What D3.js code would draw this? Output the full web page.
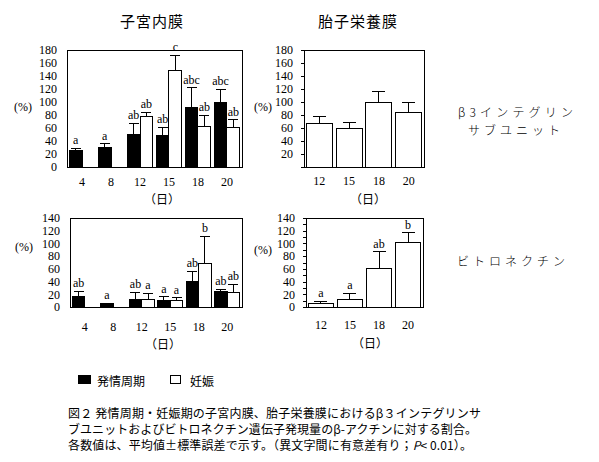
<!DOCTYPE html>
<html><head><meta charset="utf-8">
<script src="https://cdn.jsdelivr.net/npm/d3@7"></script>
<style>
body{margin:0;background:#fff;}
svg{display:block;}
</style></head>
<body>
<svg id="c" width="599" height="462"></svg>
<script>
// ---- data ----
const days6 = ["4","8","12","15","18","20"];
const days4 = ["12","15","18","20"];
const legendLabels = ["発情周期","妊娠"];
const yTicks180 = [0,20,40,60,80,100,120,140,160,180];
const yTicks140 = [0,20,40,60,80,100,120,140];
const yTicks140minor = [0,10,20,30,40,50,60,70,80,90,100,110,120,130,140];

// β3 integrin, endometrium
const b3EndoEstrous    = [26, 30, 50, 49, 91, 100];
const b3EndoEstrousSE  = [3, 6, 17, 12, 31, 20];
const b3EndoEstrousSig = ["a","a","ab","ab","abc","abc"];
const b3EndoPreg       = [null, null, 78, 149, 62.5, 61];
const b3EndoPregSE     = [null, null, 6, 23, 17, 12];
const b3EndoPregSig    = [null, null, "ab","c","ab","ab"];
// β3 integrin, trophoblast
const b3Troph   = [67, 59.5, 99.5, 84.5];
const b3TrophSE = [11, 9.5, 17, 15];
// vitronectin, endometrium
const vnEndoEstrous    = [17, 6, 12, 10, 40, 25];
const vnEndoEstrousSE  = [7.5, 0, 11, 6, 16.5, 3];
const vnEndoEstrousSig = ["ab","a","ab","a","ab","ab"];
const vnEndoPreg       = [null, null, 12, 10, 69, 23];
const vnEndoPregSE     = [null, null, 9.5, 4.5, 42, 12.5];
const vnEndoPregSig    = [null, null, "a","a","b","ab"];
// vitronectin, trophoblast
const vnTroph    = [5.2, 11.6, 60, 101];
const vnTrophSE  = [4.2, 10.4, 27, 16];
const vnTrophSig = ["a","a","ab","b"];

const SERIF = '"Liberation Serif","DejaVu Serif",serif';
const JP = '"Noto Sans CJK JP","Noto Sans",sans-serif';
const svg = d3.select("#c");

function num(sel, size){ return sel.style("font-family",SERIF).style("font-size",(size||11)+"px").style("fill","#000"); }
function jp(sel, size){ return sel.style("font-family",JP).style("font-size",(size||12)+"px").style("fill","#000"); }

function drawPanel(o){
  const g = svg.append("g");
  const y = d3.scaleLinear().domain([0,o.ymax]).range([o.y1,o.y0]);
  const x0 = d3.scaleBand().domain(o.days).range([o.x0,o.x1])
      .paddingInner(o.pi).paddingOuter(o.po);
  g.append("rect").attr("x",o.x0).attr("y",o.y0).attr("width",o.x1-o.x0).attr("height",o.y1-o.y0)
    .attr("fill","none").attr("stroke","#000").attr("stroke-width",1).attr("shape-rendering","crispEdges");
  const ya = d3.axisLeft(y).tickValues(o.yticks).tickSize(o.tickSize).tickPadding(o.tickPad)
    .tickFormat(d => (o.hideZero && d===0) ? "" : (d%20===0 ? d : ""));
  const yg = g.append("g").attr("transform",`translate(${o.x0},0)`).call(ya);
  yg.attr("font-family",null).attr("font-size",null);
  yg.select(".domain").remove();
  num(yg.selectAll("text"), 12);
  yg.selectAll("line").attr("shape-rendering","crispEdges");
  const xa = d3.axisBottom(x0).tickSize(0).tickPadding(o.xPad);
  const xg = g.append("g").attr("transform",`translate(0,${o.y1})`).call(xa);
  xg.attr("font-family",null).attr("font-size",null);
  xg.select(".domain").remove();
  num(xg.selectAll("text"), 12);
  num(g.append("text").attr("x",o.pctX).attr("y",(o.y0+o.y1)/2 + o.pctDy)
    .attr("text-anchor","middle").attr("dominant-baseline","central").text("(%)"), 12);
  jp(g.append("text").attr("x",o.dayX).attr("y",o.dayY)
    .attr("text-anchor","middle").attr("dominant-baseline","central").text("（日）"), 12);

  const bw = x0.bandwidth();
  const x1 = d3.scaleBand().domain(o.series.map(s=>s.key)).range([0,bw]);
  o.series.forEach(s=>{
    const data = o.days.map((d,i)=>({day:d, v:s.values[i], se:s.se[i], sig:s.sig ? s.sig[i] : null}))
      .filter(d=>d.v!=null);
    const sg = g.append("g");
    const bx = d => x0(d.day) + x1(s.key);
    const w = x1.bandwidth();
    data.filter(d=>d.se>0).forEach(d=>{
      const cx = bx(d) + w/2;
      sg.append("line").attr("x1",cx).attr("x2",cx).attr("y1",y(d.v)).attr("y2",y(d.v+d.se))
        .attr("stroke","#000").attr("shape-rendering","crispEdges");
      sg.append("line").attr("x1",cx-o.cap).attr("x2",cx+o.cap).attr("y1",y(d.v+d.se)).attr("y2",y(d.v+d.se))
        .attr("stroke","#000").attr("shape-rendering","crispEdges");
    });
    sg.selectAll("rect").data(data).join("rect")
      .attr("x",bx).attr("y",d=>y(d.v)).attr("width",w).attr("height",d=>y(0)-y(d.v))
      .attr("fill",s.fill).attr("stroke","#000").attr("stroke-width",1).attr("shape-rendering","crispEdges");
    num(sg.selectAll("text.sig").data(data.filter(d=>d.sig)).join("text")
      .attr("class","sig").attr("x",d=>bx(d)+w/2).attr("y",d=>y(d.v+d.se)-4)
      .attr("text-anchor","middle").text(d=>d.sig), 12);
  });
}

const leftCommon = {pi:0.12, po:0.08, tickSize:0, tickPad:10, cap:5};
const rightCommon = {pi:0.13, po:0.08, tickSize:3, tickPad:8, cap:6.5};

drawPanel(Object.assign({}, leftCommon, {
  x0:67, x1:242, y0:50, y1:167, ymax:180, yticks:yTicks180, days:days6, xPad:10,
  pctX:23, pctDy:-2, dayX:162, dayY:198,
  series:[
    {key:"estrous", values:b3EndoEstrous, se:b3EndoEstrousSE, sig:b3EndoEstrousSig, fill:"#000"},
    {key:"pregnancy", values:b3EndoPreg, se:b3EndoPregSE, sig:b3EndoPregSig, fill:"#fff"}
  ]}));
drawPanel(Object.assign({}, rightCommon, {
  x0:304, x1:424, y0:50, y1:167, ymax:180, yticks:yTicks180, days:days4, xPad:9, hideZero:true,
  pctX:263, pctDy:-2, dayX:368, dayY:198,
  series:[{key:"pregnancy", values:b3Troph, se:b3TrophSE, sig:null, fill:"#fff"}]}));
drawPanel(Object.assign({}, leftCommon, {
  x0:70, x1:242, y0:218, y1:307, ymax:140, yticks:yTicks140, days:days6, xPad:15,
  pctX:24, pctDy:-16, dayX:163, dayY:343,
  series:[
    {key:"estrous", values:vnEndoEstrous, se:vnEndoEstrousSE, sig:vnEndoEstrousSig, fill:"#000"},
    {key:"pregnancy", values:vnEndoPreg, se:vnEndoPregSE, sig:vnEndoPregSig, fill:"#fff"}
  ]}));
drawPanel(Object.assign({}, rightCommon, {
  x0:306, x1:423, y0:218, y1:307, ymax:140, yticks:yTicks140minor, days:days4, xPad:13,
  pctX:263, pctDy:-13, dayX:370, dayY:342,
  series:[{key:"pregnancy", values:vnTroph, se:vnTrophSE, sig:vnTrophSig, fill:"#fff"}]}));

// titles
jp(svg.append("text").attr("x",152).attr("y",20).attr("text-anchor","middle")
  .attr("dominant-baseline","central").style("letter-spacing","1px").text("子宮内膜"), 15);
jp(svg.append("text").attr("x",358).attr("y",20).attr("text-anchor","middle")
  .attr("dominant-baseline","central").style("letter-spacing","1px").text("胎子栄養膜"), 15);

// right labels
function rlabel(txt, x, y, len){
  jp(svg.append("text").attr("x",x).attr("y",y).attr("dominant-baseline","central")
    .style("font-weight","300")
    .attr("textLength",len).attr("lengthAdjust","spacing").text(txt), 12);
}
rlabel("β3インテグリン", 458, 111, 115);
rlabel("サブユニット", 468, 129.5, 92);
rlabel("ビトロネクチン", 457, 260, 108);

// legend
const lg = svg.append("g");
lg.append("rect").attr("x",78.5).attr("y",375.5).attr("width",12).attr("height",8).attr("fill","#000")
  .attr("stroke","#000").attr("shape-rendering","crispEdges");
jp(lg.append("text").attr("x",97).attr("y",380).attr("dominant-baseline","central").text(legendLabels[0]), 12);
lg.append("rect").attr("x",170.5).attr("y",375.5).attr("width",10).attr("height",8).attr("fill","#fff")
  .attr("stroke","#000").attr("shape-rendering","crispEdges");
jp(lg.append("text").attr("x",190).attr("y",380).attr("dominant-baseline","central").text(legendLabels[1]), 12);

// caption
jp(svg.append("text").attr("x",68).attr("y",412).attr("dominant-baseline","central")
  .attr("textLength",413).attr("lengthAdjust","spacing")
  .text("図２ 発情周期・妊娠期の子宮内膜、胎子栄養膜におけるβ３インテグリンサ"), 12);
jp(svg.append("text").attr("x",68).attr("y",428).attr("dominant-baseline","central")
  .attr("textLength",409).attr("lengthAdjust","spacing")
  .text("ブユニットおよびビトロネクチン遺伝子発現量のβ-アクチンに対する割合。"), 12);
const c3 = jp(svg.append("text").attr("x",68).attr("y",444).attr("dominant-baseline","central")
  .attr("textLength",404).attr("lengthAdjust","spacing"), 12);
c3.append("tspan").text("各数値は、平均値±標準誤差で示す。（異文字間に有意差有り；");
c3.append("tspan").style("font-style","italic").text("P");
c3.append("tspan").text("< 0.01）。");
</script>
</body></html>
